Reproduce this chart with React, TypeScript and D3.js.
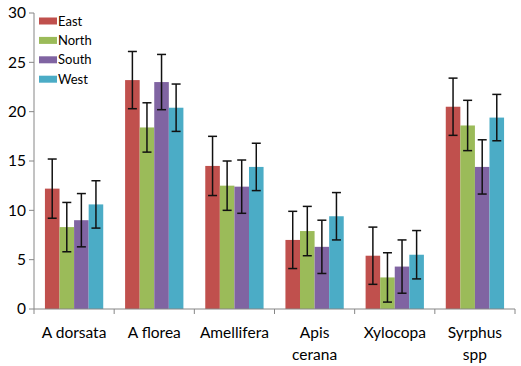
import React, { useEffect, useRef } from "react";
import * as d3 from "d3";

const categories = [
  ["A dorsata"],
  ["A florea"],
  ["Amellifera"],
  ["Apis", "cerana"],
  ["Xylocopa"],
  ["Syrphus", "spp"],
];
const seriesNames = ["East", "North", "South", "West"];
const colors = ["#C0504D", "#9BBB59", "#8064A2", "#4BACC6"];

const east = [12.2, 23.2, 14.5, 7.0, 5.4, 20.5];
const north = [8.3, 18.4, 12.5, 7.9, 3.2, 18.6];
const south = [9.0, 23.0, 12.4, 6.3, 4.3, 14.4];
const west = [10.6, 20.4, 14.4, 9.4, 5.5, 19.4];

const eastErr = [3.0, 2.9, 3.0, 2.9, 2.9, 2.9];
const northErr = [2.5, 2.5, 2.5, 2.5, 2.5, 2.55];
const southErr = [2.7, 2.8, 2.7, 2.7, 2.7, 2.75];
const westErr = [2.4, 2.4, 2.4, 2.4, 2.45, 2.35];

const yTicks = [0, 5, 10, 15, 20, 25, 30];

const App = () => {
  const svgRef = useRef<SVGSVGElement>(null);

  useEffect(() => {
    const width = 521,
      height = 366;
    const margin = { top: 13, right: 6, bottom: 57, left: 34 };

    const svg = d3.select(svgRef.current);
    svg.selectAll("*").remove();
    svg.attr("width", width).attr("height", height);

    const values = [east, north, south, west];
    const errors = [eastErr, northErr, southErr, westErr];

    const x0 = d3
      .scaleBand()
      .domain(categories.map((c, i) => String(i)))
      .range([margin.left, width - margin.right])
      .paddingInner(0)
      .paddingOuter(0);

    // Excel style gap width (150%)
    const bw = x0.bandwidth();
    const gap = (bw - (4 * bw) / 5.5) / 2;
    const x1 = d3
      .scaleBand()
      .domain(seriesNames)
      .range([gap, bw - gap]);

    const y = d3
      .scaleLinear()
      .domain([0, 30])
      .range([height - margin.bottom, margin.top]);

    const font = "Lato, 'Open Sans', sans-serif";

    // bars
    seriesNames.forEach((s, si) => {
      const g = svg.append("g");
      g.selectAll("rect")
        .data(values[si])
        .join("rect")
        .attr("x", (d, i) => x0(String(i))! + x1(s)!)
        .attr("y", (d) => y(d))
        .attr("width", x1.bandwidth())
        .attr("height", (d) => y(0) - y(d))
        .attr("fill", colors[si]);
    });

    // error bars
    seriesNames.forEach((s, si) => {
      const g = svg.append("g").attr("stroke", "#111").attr("stroke-width", 1.5);
      values[si].forEach((v, i) => {
        const cx = x0(String(i))! + x1(s)! + x1.bandwidth() / 2;
        const e = errors[si][i];
        g.append("line").attr("x1", cx).attr("x2", cx).attr("y1", y(v - e)).attr("y2", y(v + e));
        [v - e, v + e].forEach((t) => {
          g.append("line")
            .attr("x1", cx - 4.5)
            .attr("x2", cx + 4.5)
            .attr("y1", y(t))
            .attr("y2", y(t));
        });
      });
    });

    // y axis
    const yAxis = svg.append("g");
    yAxis
      .append("line")
      .attr("x1", margin.left)
      .attr("x2", margin.left)
      .attr("y1", y(30))
      .attr("y2", y(0))
      .attr("stroke", "#868686");
    yTicks.forEach((t) => {
      yAxis
        .append("line")
        .attr("x1", margin.left - 5)
        .attr("x2", margin.left)
        .attr("y1", y(t))
        .attr("y2", y(t))
        .attr("stroke", "#868686");
      yAxis
        .append("text")
        .attr("x", margin.left - 8)
        .attr("y", y(t))
        .attr("dy", "0.35em")
        .attr("text-anchor", "end")
        .attr("font-family", font)
        .attr("font-size", 15.5)
        .attr("fill", "#000")
        .text(t);
    });

    // x axis
    const xAxis = svg.append("g");
    xAxis
      .append("line")
      .attr("x1", margin.left)
      .attr("x2", width - margin.right)
      .attr("y1", y(0))
      .attr("y2", y(0))
      .attr("stroke", "#868686");
    categories.forEach((c, i) => {
      const left = x0(String(i))!;
      xAxis
        .append("line")
        .attr("x1", left)
        .attr("x2", left)
        .attr("y1", y(0))
        .attr("y2", y(0) + 5)
        .attr("stroke", "#868686");
      const txt = xAxis
        .append("text")
        .attr("x", left + bw / 2)
        .attr("y", y(0) + 29)
        .attr("text-anchor", "middle")
        .attr("font-family", font)
        .attr("font-size", 15.5)
        .attr("fill", "#000");
      c.forEach((line, li) => {
        txt.append("tspan").attr("x", left + bw / 2).attr("dy", li === 0 ? 0 : 22).text(line);
      });
    });
    xAxis
      .append("line")
      .attr("x1", width - margin.right)
      .attr("x2", width - margin.right)
      .attr("y1", y(0))
      .attr("y2", y(0) + 5)
      .attr("stroke", "#868686");

    // legend
    const legend = svg.append("g").attr("transform", "translate(39,21)");
    seriesNames.forEach((s, si) => {
      const row = legend.append("g").attr("transform", `translate(0,${si * 19.4})`);
      row.append("rect").attr("x", 0).attr("y", -3.5).attr("width", 18).attr("height", 7).attr("fill", colors[si]);
      row
        .append("text")
        .attr("x", 19)
        .attr("y", 0)
        .attr("dy", "0.35em")
        .attr("font-family", font)
        .attr("font-size", 13)
        .attr("fill", "#000")
        .text(s);
    });
  }, []);

  return (
    <svg
      ref={svgRef}
      style={{ position: "absolute", left: 0, top: 0, display: "block", background: "#fff" }}
    ></svg>
  );
};

export default App;
